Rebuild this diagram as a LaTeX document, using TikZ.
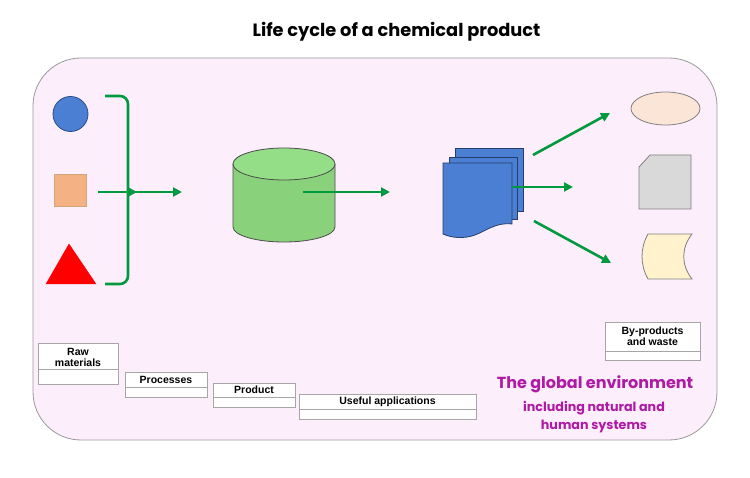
\documentclass[tikz,border=0pt]{standalone}
\usepackage{fontspec}
\setmainfont{Liberation Sans}
\newfontfamily\titlefont{Poppins}
\usetikzlibrary{arrows.meta,shapes.geometric}

\definecolor{bgpink}{HTML}{FDEEFB}
\definecolor{arrowgreen}{HTML}{00993D}
\definecolor{docblue}{HTML}{4A7FD4}
\definecolor{envpurple}{HTML}{AE1AA3}
\definecolor{sqorange}{HTML}{F4B183}
\definecolor{cylbody}{HTML}{8AD17B}
\definecolor{cyltop}{HTML}{94DE88}
\definecolor{ellpeach}{HTML}{FBE5D6}
\definecolor{datacream}{HTML}{FFF2CC}
\definecolor{cardgray}{HTML}{D9D9D9}

\tikzset{
  flow/.style={arrowgreen, line width=2.6pt, -{Triangle[length=9pt,width=9pt]}},
  labelbox/.style={draw=gray!70, fill=white, line width=0.8pt, anchor=north west, inner sep=0pt},
  labeltext/.style={align=center, font=\fontsize{10.5}{11}\selectfont\bfseries, inner sep=0pt},
  shapeline/.style={line width=0.8pt}
}

\begin{document}
\begin{tikzpicture}[x=1pt,y=-1pt]
  \useasboundingbox (0,0) rectangle (750,478);
  \node[font=\titlefont\fontsize{17.8}{19}\selectfont\bfseries] (title) at (396.5,32) {Life cycle of a chemical product};
  \draw[fill=bgpink, draw=gray!80, line width=0.8pt, rounded corners=48pt] (33,58) rectangle (717,440);

  % raw materials
  \node[circle, fill=docblue, draw=docblue!60!black, shapeline, minimum size=35pt, inner sep=0pt] (circ) at (70.5,114) {};
  \node[rectangle, fill=sqorange, draw=brown!70, shapeline, minimum size=32pt, inner sep=0pt] (sq) at (70,190) {};
  \draw[fill=red, draw=red] (46,284) -- (69,244) -- (96,284) -- cycle;
  \coordinate (bt) at (105,96);
  \coordinate (bb) at (105,284);
  \draw[arrowgreen, line width=2.6pt, rounded corners=8pt] (bt) -- (128,96) -- (128,284) -- (bb);
  \coordinate (in1) at (98,192);
  \coordinate (in2) at (137,192);
  \coordinate (in3) at (182,192);
  \draw[flow] (in1) -- (in2);
  \draw[flow] (130,192) -- (in3);

  % process
  \draw[fill=cylbody, draw=gray!60!black, shapeline]
    (233,164) -- (233,227) arc (180:0:51 and 15) -- (335,164);
  \draw[fill=cyltop, draw=gray!60!black, shapeline] (284,164) ellipse (51 and 16);
  \coordinate (p1) at (303,192);
  \coordinate (p2) at (390,192);
  \draw[flow] (p1) -- (p2);

  % product
  \draw[fill=docblue, draw=docblue!50!black, shapeline] (455,148) rectangle (523,211);
  \draw[fill=docblue, draw=docblue!50!black, shapeline] (449,157) rectangle (517,219);
  \draw[fill=docblue, draw=docblue!50!black, shapeline] (443,163) -- (512,163) -- (512,224)
    .. controls (496,222) and (486,231) .. (475,235) .. controls (464,239) and (452,238) .. (443,234) -- cycle;
  \coordinate (d0) at (512,187);
  \coordinate (d1) at (533,155);
  \coordinate (d2) at (610,113);
  \coordinate (d3) at (573,187);
  \coordinate (d4) at (534,221);
  \coordinate (d5) at (611,263);
  \draw[flow] (d1) -- (d2);
  \draw[flow] (d0) -- (d3);
  \draw[flow] (d4) -- (d5);

  % by-products
  \node[ellipse, minimum width=69pt, minimum height=33pt, fill=ellpeach, draw=gray, shapeline] (ell) at (665.5,108.5) {};
  \draw[fill=cardgray, draw=gray, shapeline] (650,155) -- (691,155) -- (691,209) -- (639,209) -- (639,167) -- cycle;
  \draw[fill=datacream, draw=gray, shapeline] (648,234) -- (692,234)
    .. controls (681,248) and (681,265) .. (692,279) -- (648,279)
    .. controls (640,265) and (640,248) .. (648,234) -- cycle;

  % labels
  \node[labelbox, minimum width=80pt, minimum height=41pt] (raw) at (38,343) {};
  \draw[gray!70, line width=0.8pt] (38,369) -- (118,369);
  \node[labeltext] (rawt) at (78,357) {Raw\\materials};
  \node[labelbox, minimum width=82pt, minimum height=25pt] (proc) at (125,372) {};
  \draw[gray!70, line width=0.8pt] (125,387) -- (207,387);
  \node[labeltext] (proct) at (166,379.5) {Processes};
  \node[labelbox, minimum width=82pt, minimum height=24pt] (prod) at (213,383) {};
  \draw[gray!70, line width=0.8pt] (213,397) -- (295,397);
  \node[labeltext] (prodt) at (254,390) {Product};
  \node[labelbox, minimum width=177pt, minimum height=25pt] (use) at (299,394) {};
  \draw[gray!70, line width=0.8pt] (299,409) -- (476,409);
  \node[labeltext] (uset) at (387.5,401.5) {Useful applications};
  \node[labelbox, minimum width=95pt, minimum height=38pt] (byp) at (605,322) {};
  \draw[gray!70, line width=0.8pt] (605,351) -- (700,351);
  \node[labeltext] (bypt) at (652.5,336) {By-products\\and waste};

  \node[envpurple, font=\titlefont\fontsize{16}{18}\selectfont\bfseries] (env) at (595,384) {The global environment};
  \node[envpurple, font=\titlefont\fontsize{12.7}{18}\selectfont\bfseries, align=center] (envsub) at (594,417) {including natural and\\human systems};
\end{tikzpicture}
\end{document}
